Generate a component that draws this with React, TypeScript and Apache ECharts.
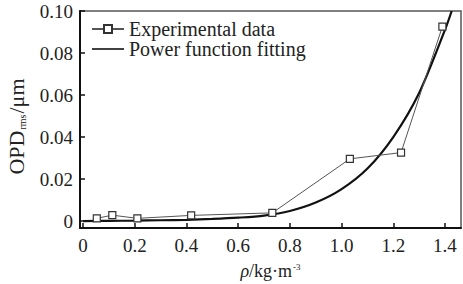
import React, { useEffect, useRef } from "react";
import * as echarts from "echarts";

const expX = [0.053, 0.113, 0.21, 0.418, 0.732, 1.032, 1.23, 1.39];
const expY = [0.0013, 0.0028, 0.0013, 0.0027, 0.0039, 0.0296, 0.0326, 0.0926];

const fitX = [0, 0.1, 0.2, 0.3, 0.4, 0.5, 0.6, 0.7, 0.8, 0.9, 1.0, 1.1, 1.2, 1.3, 1.4, 1.426];
const fitY = [0, 0.0001, 0.0002, 0.0004, 0.0006, 0.001, 0.0016, 0.0026, 0.0048, 0.0088, 0.0152, 0.025, 0.04, 0.061, 0.091, 0.1];

const xTicks = [0, 0.2, 0.4, 0.6, 0.8, 1.0, 1.2, 1.4];
const yTicks = [0, 0.02, 0.04, 0.06, 0.08, 0.1];

const FONT = "Liberation Serif";
const T = { fontSize: 19, fontFamily: FONT, color: "#222" };
const L = { fontSize: 20, fontFamily: FONT, color: "#222", lineHeight: 20 };
const N = { fontSize: 22, fontFamily: FONT, color: "#222" };

export default function App() {
  const ref = useRef<HTMLDivElement>(null);
  useEffect(() => {
    const chart = echarts.init(ref.current!, null, { renderer: "svg" });
    chart.setOption({
      animation: false,
      grid: {
        left: 80,
        right: 2,
        top: 11,
        bottom: 56,
        show: true,
        borderColor: "#555",
        borderWidth: 1.5,
        containLabel: false,
        outerBoundsMode: "none",
      },
      legend: {
        orient: "vertical",
        left: 91,
        top: 19,
        itemWidth: 32,
        itemHeight: 10,
        itemGap: 0,
        padding: 0,
        formatter: (n: string) => "{a|" + n + "}",
        textStyle: { ...L, rich: { a: { ...L } } },
        data: [
          { name: "Experimental data" },
          { name: "Power function fitting", icon: "path://M0,0 L32,0 L32,1.6 L0,1.6 Z", itemStyle: { color: "#111" } },
        ],
      },
      xAxis: {
        type: "value",
        min: -0.012,
        max: 1.462,
        axisLine: { show: true, onZero: false, lineStyle: { color: "#111", width: 2 } },
        axisTick: { show: true, inside: true, length: 5, customValues: xTicks, lineStyle: { color: "#111", width: 1.5 } },
        axisLabel: {
          customValues: xTicks,
          ...T,
          margin: 8,
          rich: { a: { ...T } },
          formatter: (v: number) => "{a|" + (v === 0 ? "0" : v.toFixed(1)) + "}",
        },
        splitLine: { show: false },
        name: "{i|ρ}{n|/kg·m}{s|-3}",
        nameLocation: "middle",
        nameGap: 34,
        nameTextStyle: {
          fontSize: 18,
          fontFamily: FONT,
          rich: {
            i: { fontSize: 18, fontFamily: FONT, color: "#222", fontStyle: "italic" },
            n: { fontSize: 18, fontFamily: FONT, color: "#222" },
            s: { fontSize: 9, fontFamily: FONT, color: "#222", verticalAlign: "top", padding: [0, 0, 8, 1] },
          },
        },
      },
      yAxis: {
        type: "value",
        min: -0.0033,
        max: 0.1,
        axisLine: { show: true, onZero: false, lineStyle: { color: "#111", width: 2 } },
        axisTick: { show: true, inside: true, length: 5, customValues: yTicks, lineStyle: { color: "#111", width: 1.5 } },
        axisLabel: {
          customValues: yTicks,
          ...T,
          margin: 7,
          rich: { a: { ...T } },
          formatter: (v: number) => "{a|" + (v === 0 ? "0" : v.toFixed(2)) + "}",
        },
        splitLine: { show: false },
        name: "{n|OPD}{s|rms}{n|/μm}",
        nameLocation: "middle",
        nameGap: 53,
        nameRotate: 90,
        nameTextStyle: {
          ...N,
          padding: [0, 14, 0, 0],
          rich: {
            n: { ...N },
            s: { fontSize: 10, fontFamily: FONT, color: "#222", verticalAlign: "bottom", padding: [11, 1, 0, 1] },
          },
        },
      },
      series: [
        {
          name: "Experimental data",
          type: "line",
          data: expX.map((x, i) => [x, expY[i]]),
          symbol: "rect",
          symbolSize: 7,
          showAllSymbol: true,
          lineStyle: { color: "#555", width: 1 },
          itemStyle: { color: "#fff", borderColor: "#333", borderWidth: 1.2 },
          z: 3,
        },
        {
          name: "Power function fitting",
          type: "line",
          data: fitX.map((x, i) => [x, fitY[i]]),
          symbol: "none",
          smooth: 0.3,
          lineStyle: { color: "#111", width: 2.2 },
          itemStyle: { color: "#111" },
          z: 2,
        },
      ],
    });
    return () => chart.dispose();
  }, []);
  return <div ref={ref} style={{ width: 463, height: 284, position: "absolute", left: 0, top: 0, background: "#fff" }} />;
}
